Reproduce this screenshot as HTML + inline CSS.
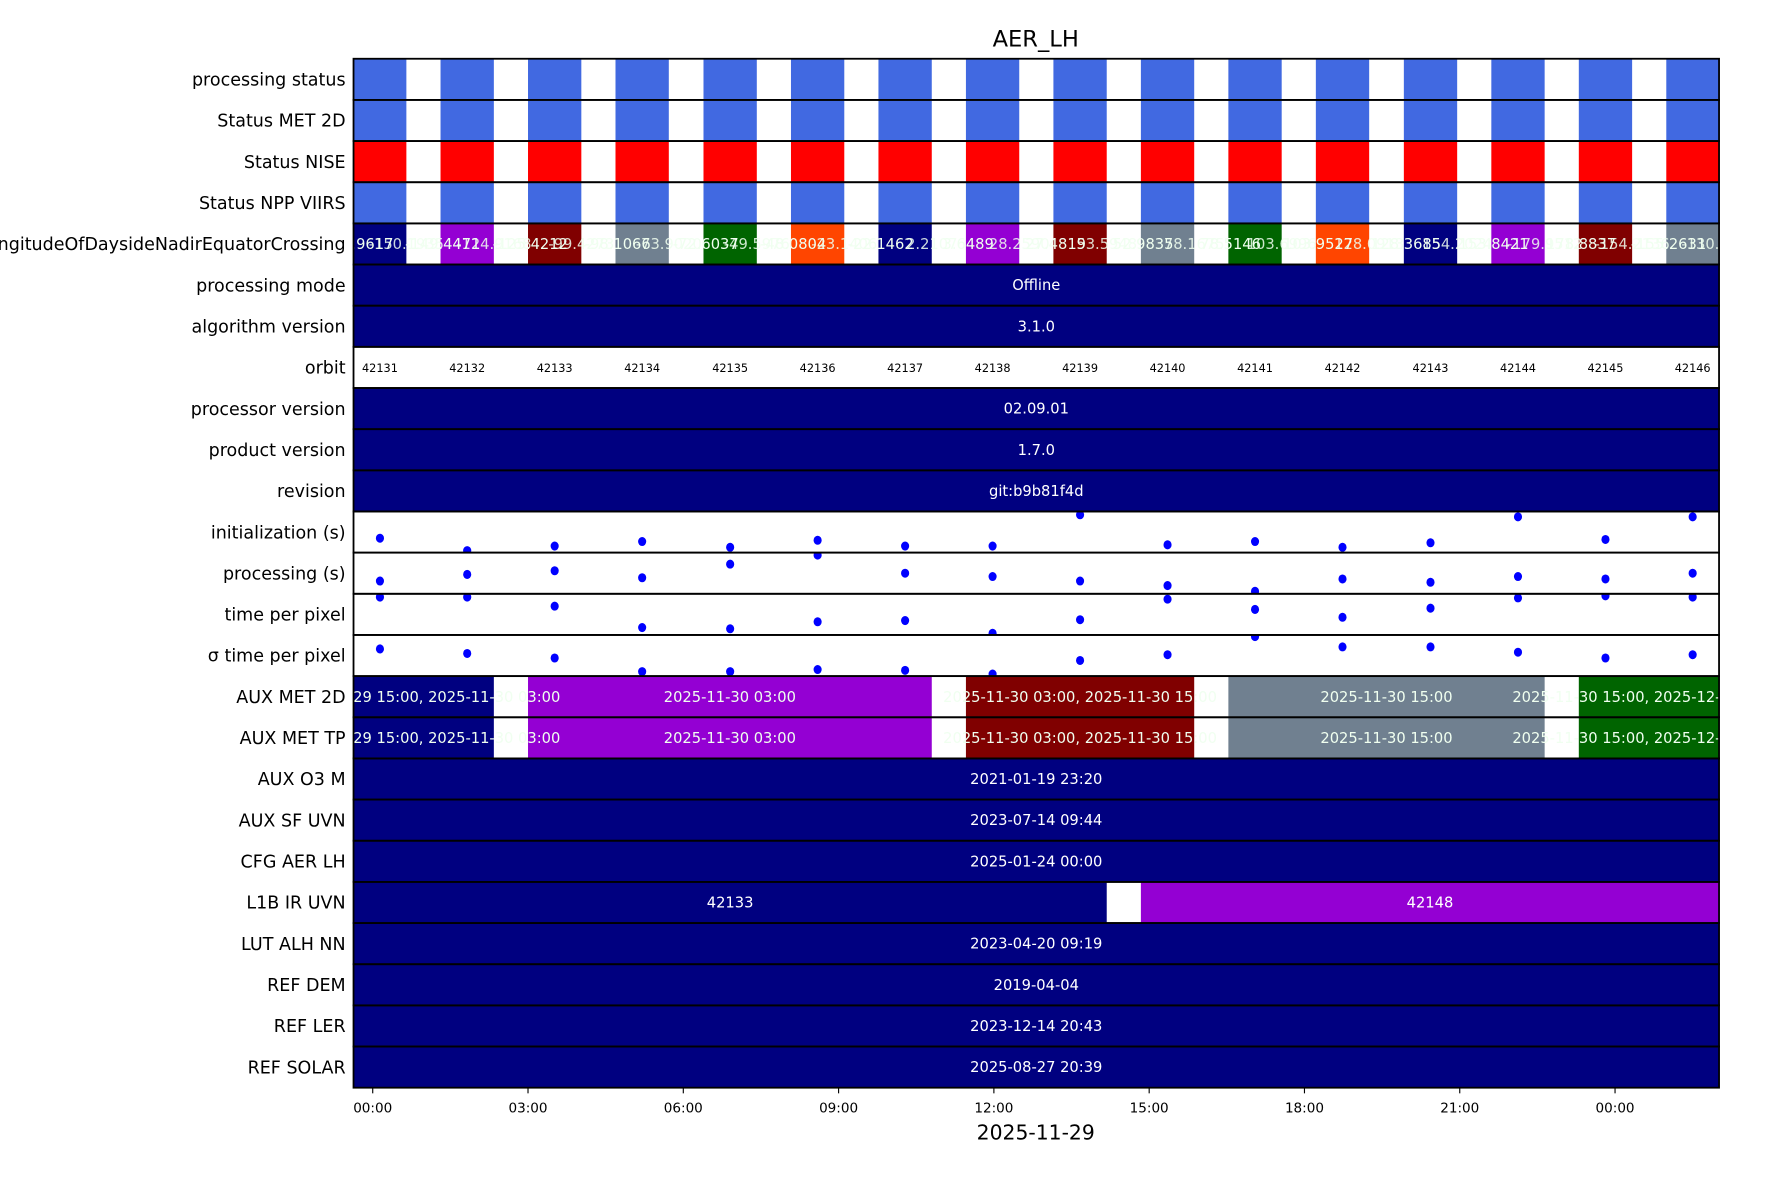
<!DOCTYPE html>
<html><head><meta charset="utf-8"><style>
html,body{margin:0;padding:0;background:#fff;}
svg{display:block;font-family:"DejaVu Sans","Liberation Sans",sans-serif;}
</style></head><body>
<svg id="chart" width="1771" height="1181" viewBox="0 0 1568 1045.6" xmlns="http://www.w3.org/2000/svg">
<defs><clipPath id="plotclip"><rect x="313" y="52" width="1209" height="911"/></clipPath></defs>
<text x="917" y="41" font-size="20" text-anchor="middle">AER_LH</text>
<g id="rows"></g>
<g id="ylabels"></g>
<g id="xaxis"></g>
<text x="917" y="1009" font-size="18" text-anchor="middle">2025-11-29</text>
</svg>
<script>
const rowNames = ["processing status","Status MET 2D","Status NISE","Status NPP VIIRS","longitudeOfDaysideNadirEquatorCrossing","processing mode","algorithm version","orbit","processor version","product version","revision","initialization (s)","processing (s)","time per pixel","\u03c3 time per pixel","AUX MET 2D","AUX MET TP","AUX O3   M","AUX SF UVN","CFG AER LH","L1B IR UVN","LUT ALH NN","REF DEM","REF LER","REF SOLAR"];
const orbits = [42131,42132,42133,42134,42135,42136,42137,42138,42139,42140,42141,42142,42143,42144,42145,42146];
const orbitStartHours = [-0.38,1.31,3.00,4.69,6.39,8.08,9.77,11.46,13.15,14.84,16.53,18.22,19.92,21.61,23.30,24.99];
const orbitDuration = 1.03;
const longitudes = ["-173.9617","-149.4471","-125.4212","-98.1066","-72.6037","-48.0804","-22.1462","3.6489","27.4819","52.9835","78.5146","103.9527","128.3685","153.8421","178.8837","-155.2631"];
const longitudesEnd = ["-150.1935","-124.9168","-99.4273","-73.9020","-49.5976","-23.1406","2.2107","28.2590","53.5948","78.1675","103.6996","128.0913","154.2024","-179.9512","-154.2136","-130.1204"];
const lonColors = ["#000080","#9400d3","#800000","#708090","#006400","#ff4500","#000080","#9400d3","#800000","#708090","#006400","#ff4500","#000080","#9400d3","#800000","#708090"];
const initValues = [0.35,0.05,0.16,0.27,0.13,0.30,0.16,0.16,0.92,0.19,0.27,0.13,0.24,0.87,0.32,0.87];
const procValues = [0.31,0.47,0.56,0.39,0.72,0.94,0.50,0.42,0.31,0.20,0.06,0.36,0.28,0.42,0.36,0.50];
const tppValues = [0.92,0.92,0.70,0.18,0.15,0.32,0.35,0.04,0.37,0.87,0.62,0.43,0.65,0.90,0.95,0.92];
const sigmaValues = [0.66,0.55,0.44,0.11,0.11,0.16,0.14,0.05,0.38,0.52,0.96,0.71,0.71,0.58,0.44,0.52];
const statusColors = ["#4169e1","#4169e1","#ff0000","#4169e1"];
const fullRowText = {5:"Offline",6:"3.1.0",8:"02.09.01",9:"1.7.0",10:"git:b9b81f4d",17:"2021-01-19 23:20",18:"2023-07-14 09:44",19:"2025-01-24 00:00",21:"2023-04-20 09:19",22:"2019-04-04",23:"2023-12-14 20:43",24:"2025-08-27 20:39"};
const auxSegFirst = [0,2,7,10,14];
const auxSegLast = [1,6,9,13,15];
const auxSegLabels = ["2025-11-29 15:00, 2025-11-30 03:00","2025-11-30 03:00","2025-11-30 03:00, 2025-11-30 15:00","2025-11-30 15:00","2025-11-30 15:00, 2025-12-01 03:00"];
const auxSegColors = ["#000080","#9400d3","#800000","#708090","#006400"];
const l1bSegFirst = [0,9];
const l1bSegLast = [8,15];
const l1bLabels = ["42133","42148"];
const l1bColors = ["#000080","#9400d3"];
const tickHours = [0,3,6,9,12,15,18,21,24];
const tickLabels = ["00:00","03:00","06:00","09:00","12:00","15:00","18:00","21:00","00:00"];

const NS="http://www.w3.org/2000/svg";
const X0=313, X1=1522, TOP=52, RH=36.44;
function x(h){return 330 + h*45.83;}
function rowTop(i){return TOP + i*RH;}
function el(tag,attrs,parent,txt){const e=document.createElementNS(NS,tag);for(const k in attrs)e.setAttribute(k,attrs[k]);if(txt!==undefined)e.textContent=txt;parent.appendChild(e);return e;}
const rows=document.getElementById('rows');
const clipG=el('g',{'clip-path':'url(#plotclip)'},rows);
function oStart(k){return Math.max(X0,x(orbitStartHours[k]));}
function oEnd(k){return Math.min(X1,x(orbitStartHours[k]+orbitDuration));}
function oCenter(k){return (oStart(k)+oEnd(k))/2;}

for(let r=0;r<4;r++){
  for(let k=0;k<orbits.length;k++){
    const b=el('rect',{x:oStart(k),y:rowTop(r),width:oEnd(k)-oStart(k),height:RH,fill:statusColors[r]},clipG);
    
    
  }
}
for(let k=0;k<orbits.length;k++){
  const b=el('rect',{x:oStart(k),y:rowTop(4),width:oEnd(k)-oStart(k),height:RH,fill:lonColors[k]},clipG);
  
  
}
for(let k=0;k<orbits.length;k++){
  const t=el('text',{x:oStart(k)+2,y:rowTop(4)+RH/2+4.5,'font-size':13,fill:'#f0fff0','text-anchor':'middle'},clipG,longitudes[k]);
  
  
  const t2=el('text',{x:oEnd(k),y:rowTop(4)+RH/2+4.5,'font-size':13,fill:'#f0fff0','text-anchor':'middle','opacity':0.85},clipG,longitudesEnd[k]);
  
  
}
for(const r in fullRowText){
  const ri=+r;
  const b=el('rect',{x:X0,y:rowTop(ri),width:X1-X0,height:RH,fill:'#000080'},clipG);
  
  
  const t=el('text',{x:(X0+X1)/2,y:rowTop(ri)+RH/2+4.5,'font-size':13,fill:'#fff','text-anchor':'middle'},clipG,fullRowText[r]);
  
  
}
for(let k=0;k<orbits.length;k++){
  const t=el('text',{x:oCenter(k),y:rowTop(7)+RH/2+4,'font-size':10,fill:'#000','text-anchor':'middle'},clipG,orbits[k]);
  
  
}
const scatterSets=[[11,initValues],[12,procValues],[13,tppValues],[14,sigmaValues]];
for(const [r,vals] of scatterSets){
  const cp=el('clipPath',{id:'rc'+r},document.querySelector('defs'));
  el('rect',{x:X0,y:rowTop(r),width:X1-X0,height:RH},cp);
  const g=el('g',{'clip-path':'url(#rc'+r+')'},rows);
  for(let k=0;k<vals.length;k++){
    const c=el('ellipse',{cx:oCenter(k),cy:rowTop(r+1)-vals[k]*RH,rx:3.6,ry:4,fill:'#0000ff'},g);
    
    
  }
}
for(const r of [15,16]){
  for(let s=0;s<auxSegFirst.length;s++){
    const a=oStart(auxSegFirst[s]), b2=oEnd(auxSegLast[s]);
    const b=el('rect',{x:a,y:rowTop(r),width:b2-a,height:RH,fill:auxSegColors[s]},clipG);
    
    
  }
  for(let s=0;s<auxSegFirst.length;s++){
    const a=x(orbitStartHours[auxSegFirst[s]]), b2=x(orbitStartHours[auxSegLast[s]]+orbitDuration);
    const t=el('text',{x:(a+b2)/2,y:rowTop(r)+RH/2+4.5,'font-size':13,fill:'#f0fff0','text-anchor':'middle'},clipG,auxSegLabels[s]);
    
    
  }
}
for(let s=0;s<l1bSegFirst.length;s++){
  const a=oStart(l1bSegFirst[s]), b2=oEnd(l1bSegLast[s]);
  const b=el('rect',{x:a,y:rowTop(20),width:b2-a,height:RH,fill:l1bColors[s]},clipG);
  
  
  const t=el('text',{x:(a+b2)/2,y:rowTop(20)+RH/2+4.5,'font-size':13,fill:'#fff','text-anchor':'middle'},clipG,l1bLabels[s]);
  
  
}
for(let r=0;r<rowNames.length;r++){
  const b=el('rect',{x:X0,y:rowTop(r),width:X1-X0,height:RH,fill:'none',stroke:'#000','stroke-width':1.6},rows);
  
  
}
const yl=document.getElementById('ylabels');
for(let r=0;r<rowNames.length;r++){
  const t=el('text',{x:306,y:rowTop(r)+RH/2+5.5,'font-size':15.5,'text-anchor':'end'},yl,rowNames[r]);
  
  
}
const xa=document.getElementById('xaxis');
const yb=rowTop(rowNames.length);
for(let i=0;i<tickHours.length;i++){
  const tx=x(tickHours[i]);
  const l=el('line',{x1:tx,x2:tx,y1:yb,y2:yb+5,stroke:'#000','stroke-width':1},xa);
  
  
  const t=el('text',{x:tx,y:yb+22,'font-size':12,'text-anchor':'middle'},xa,tickLabels[i]);
  
  
}
</script>
</body></html>
